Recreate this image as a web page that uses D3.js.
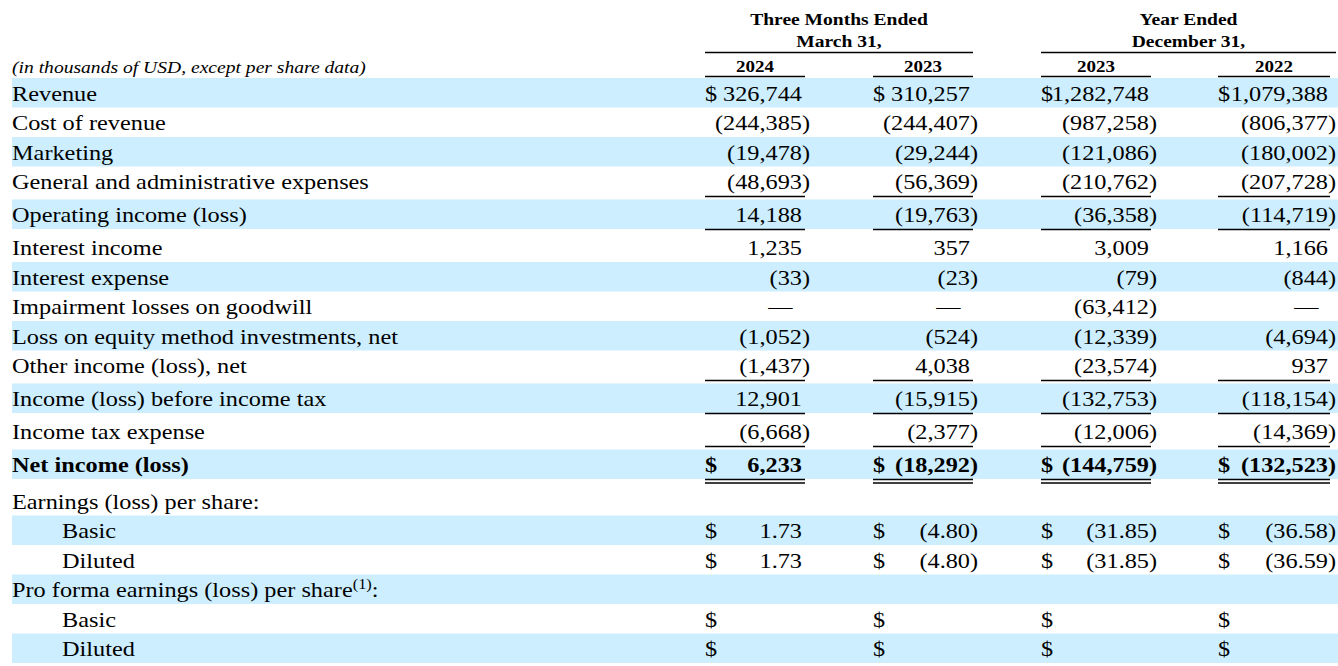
<!DOCTYPE html>
<html>
<head>
<meta charset="utf-8">
<script src="https://cdn.jsdelivr.net/npm/d3@7/dist/d3.min.js"></script>
<style>
  body { margin: 0; background: #fff; }
  svg { display: block; }
</style>
</head>
<body>
<div id="table"></div>
<script>
// row labels, top to bottom
var labels = [
  "Revenue",
  "Cost of revenue",
  "Marketing",
  "General and administrative expenses",
  "Operating income (loss)",
  "Interest income",
  "Interest expense",
  "Impairment losses on goodwill",
  "Loss on equity method investments, net",
  "Other income (loss), net",
  "Income (loss) before income tax",
  "Income tax expense",
  "Net income (loss)",
  "Earnings (loss) per share:",
  "Basic",
  "Diluted",
  "Pro forma earnings (loss) per share",
  "Basic",
  "Diluted"
];

// column headings
var groupLabels = [["Three Months Ended", "March 31,"], ["Year Ended", "December 31,"]];
var years = ["2024", "2023", "2023", "2022"];

// values (thousands of USD, per share rows in USD); null = blank, 0 = dash
var q2024 = [326744, -244385, -19478, -48693, 14188, 1235, -33, 0, -1052, -1437, 12901, -6668, 6233, null, 1.73, 1.73, null, null, null];
var q2023 = [310257, -244407, -29244, -56369, -19763, 357, -23, 0, -524, 4038, -15915, -2377, -18292, null, -4.80, -4.80, null, null, null];
var y2023 = [1282748, -987258, -121086, -210762, -36358, 3009, -79, -63412, -12339, -23574, -132753, -12006, -144759, null, -31.85, -31.85, null, null, null];
var y2022 = [1079388, -806377, -180002, -207728, -114719, 1166, -844, 0, -4694, 937, -118154, -14369, -132523, null, -36.58, -36.59, null, null, null];

var series = [q2024, q2023, y2023, y2022];

var width = 1338, height = 666;
var font = "'Liberation Serif', 'Times New Roman', serif";
var rowH = 29.5;
var top0 = 78;
var bodySize = 21.5, bodyStretch = 1.13;

// row formatting rules
var dollarRows = [0, 12, 14, 15, 17, 18];
var epsRows = [14, 15];
var indentRows = [14, 15, 17, 18];
var boldRows = [12];
var singleLine = [3, 4, 9, 10, 11];
var doubleLine = [12];
var footnoteRow = 16;

// y position of each row (gap after underlined rows)
var tops = [];
var acc = top0;
labels.forEach(function (d, i) {
  tops.push(acc);
  acc += rowH + (doubleLine.indexOf(i) >= 0 ? 7 : singleLine.indexOf(i) >= 0 ? 3.5 : 0);
});
var y = d3.scaleOrdinal().domain(d3.range(labels.length)).range(tops);

// column edges
var cols = d3.range(4);
var xLeft = d3.scaleOrdinal().domain(cols).range([705, 873, 1041, 1218]);
var xRight = d3.scaleOrdinal().domain(cols).range([805, 973, 1151, 1330]);
var xDigits = d3.scaleOrdinal().domain(cols).range([802, 970, 1149, 1328]);

var fmtInt = d3.format(",");
var fmtEps = d3.format(".2f");

var svg = d3.select('#table').append('svg')
  .attr('width', width).attr('height', height)
  .style('font-family', font);

// text stretched a little wider, like the source document
function put(g, x, yy, str, stretch) {
  return g.append('text')
    .attr('transform', 'translate(' + x + ',' + yy + ') scale(' + stretch + ',1)')
    .text(str);
}

// shaded bands on every other row
svg.append('g').selectAll('rect')
  .data(labels.map(function (d, i) { return i; }).filter(function (i) { return i % 2 === 0; }))
  .join('rect')
  .attr('x', 12).attr('y', function (i) { return y(i); })
  .attr('width', width - 12).attr('height', rowH)
  .attr('fill', '#cceeff');

// header
var head = svg.append('g').attr('font-weight', 'bold').attr('font-size', 17).attr('text-anchor', 'middle');
groupLabels.forEach(function (g, gi) {
  var l = xLeft(gi * 2), r = gi === 0 ? xRight(1) : width - 2;
  put(head, (l + r) / 2, 25, g[0], 1.15);
  put(head, (l + r) / 2, 47, g[1], 1.15);
  svg.append('line').attr('x1', l).attr('x2', r).attr('y1', 52.5).attr('y2', 52.5)
    .attr('stroke', '#000').attr('stroke-width', 1.5);
});
years.forEach(function (yr, c) {
  put(head, (xLeft(c) + xRight(c)) / 2, 72, yr, 1.12);
  svg.append('line').attr('x1', xLeft(c)).attr('x2', xRight(c)).attr('y1', 76.5).attr('y2', 76.5)
    .attr('stroke', '#000').attr('stroke-width', 1.5);
});
put(svg.append('g').attr('font-size', 17.5).attr('font-style', 'italic'),
  12, 73, '(in thousands of USD, except per share data)', 1.12);

// row labels
var lab = svg.append('g').attr('font-size', bodySize);
labels.forEach(function (d, i) {
  var t = put(lab, indentRows.indexOf(i) >= 0 ? 62 : 12, y(i) + 22.5, d, bodyStretch)
    .attr('font-weight', boldRows.indexOf(i) >= 0 ? 'bold' : null);
  if (i === footnoteRow) {
    t.append('tspan').attr('font-size', 14.5).attr('dy', -8).text('(1)');
    t.append('tspan').attr('dy', 8).text(':');
  }
});

// values
var vals = svg.append('g').attr('font-size', bodySize);
series.forEach(function (s, c) {
  s.forEach(function (v, i) {
    var base = y(i) + 22.5;
    var bold = boldRows.indexOf(i) >= 0 ? 'bold' : null;
    if (dollarRows.indexOf(i) >= 0) {
      put(vals, xLeft(c), base, '$', bodyStretch).attr('font-weight', bold);
    }
    if (v === null) return;
    if (v === 0) {
      put(vals, xDigits(c) - 9.5, base, '\u2014', bodyStretch).attr('text-anchor', 'end');
      return;
    }
    var f = epsRows.indexOf(i) >= 0 ? fmtEps : fmtInt;
    var str = v < 0 ? '(' + f(-v) : f(v);
    put(vals, xDigits(c), base, str, bodyStretch)
      .attr('text-anchor', 'end').attr('font-weight', bold);
    if (v < 0) {
      put(vals, xDigits(c), base, ')', bodyStretch).attr('font-weight', bold);
    }
  });
  // underlines
  singleLine.concat(doubleLine).forEach(function (i) {
    var yb = y(i) + rowH + 0.5;
    svg.append('line').attr('x1', xLeft(c)).attr('x2', xRight(c)).attr('y1', yb).attr('y2', yb)
      .attr('stroke', '#000').attr('stroke-width', 1.3);
    if (doubleLine.indexOf(i) >= 0) {
      svg.append('line').attr('x1', xLeft(c)).attr('x2', xRight(c)).attr('y1', yb + 3.5).attr('y2', yb + 3.5)
        .attr('stroke', '#000').attr('stroke-width', 1.3);
    }
  });
});
</script>
</body>
</html>
